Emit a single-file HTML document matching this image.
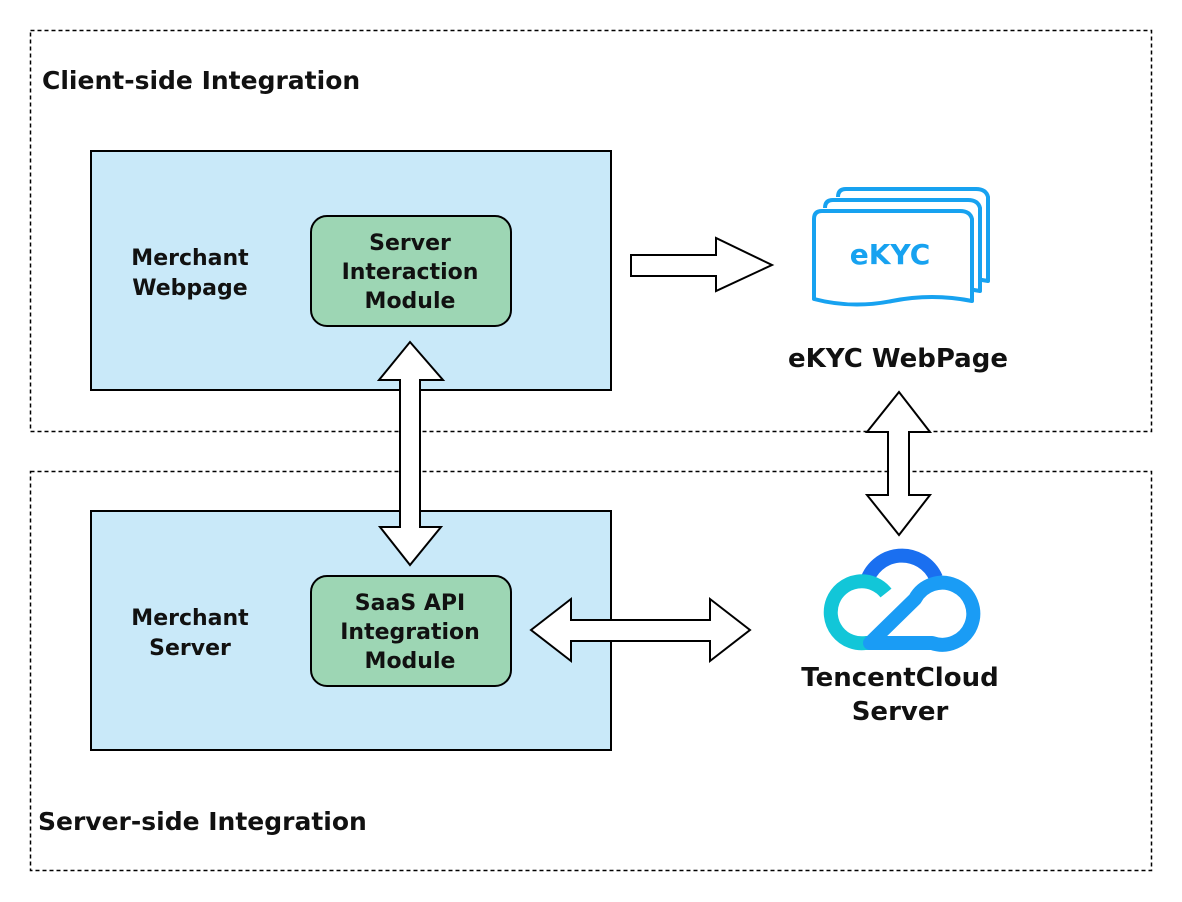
<!DOCTYPE html>
<html><head><meta charset="utf-8"><style>
html,body{margin:0;padding:0;background:#fff;}
svg{display:block;}
text{font-family:"DejaVu Sans","Liberation Sans",sans-serif;font-weight:bold;fill:#111;}
</style></head><body>
<svg width="1182" height="902" viewBox="0 0 1182 902" xmlns="http://www.w3.org/2000/svg">
<rect x="30.5" y="30.5" width="1121" height="401" fill="none" stroke="#000" stroke-width="1.5" stroke-dasharray="4,3"/>
<rect x="30.5" y="471.5" width="1121" height="399" fill="none" stroke="#000" stroke-width="1.5" stroke-dasharray="4,3"/>
<text x="42" y="89" font-size="25">Client-side Integration</text>
<text x="38" y="830" font-size="25">Server-side Integration</text>

<rect x="91" y="151" width="520" height="239" fill="#c9e9f9" stroke="#000" stroke-width="2"/>
<rect x="91" y="511" width="520" height="239" fill="#c9e9f9" stroke="#000" stroke-width="2"/>
<rect x="311" y="216" width="200" height="110" rx="16" fill="#9dd6b4" stroke="#000" stroke-width="2"/>
<rect x="311" y="576" width="200" height="110" rx="16" fill="#9dd6b4" stroke="#000" stroke-width="2"/>

<g font-size="22" text-anchor="middle">
<text x="190" y="265">Merchant</text><text x="190" y="295">Webpage</text>
<text x="190" y="625">Merchant</text><text x="190" y="655">Server</text>
<text x="410" y="250">Server</text><text x="410" y="279">Interaction</text><text x="410" y="308">Module</text>
<text x="410" y="610">SaaS API</text><text x="410" y="639">Integration</text><text x="410" y="668">Module</text>
</g>

<g fill="#fff" stroke="#000" stroke-width="2" stroke-linejoin="miter">
<polygon points="631,255 716,255 716,238 772,265 716,291 716,276 631,276"/>
<polygon points="410,342 443,380 420,380 420,527 441,527 410,565 380,527 400,527 400,380 379,380"/>
<polygon points="899,392 930,432 909,432 909,495 930,495 899,535 867,495 888,495 888,432 867,432"/>
<polygon points="531,630 571,599 571,620 710,620 710,599 750,630 710,661 710,641 571,641 571,661"/>
</g>

<!-- eKYC pages icon -->
<g fill="#fff" stroke="#17a2f0" stroke-width="4" stroke-linejoin="round">
<path d="M838,197 q0,-8 8,-8 h130 q10,0 12,8 v84 l-12,-2"/>
<path d="M825,208 q0,-8 8,-8 h135 q10,0 12,8 v83 l-12,-2"/>
<path d="M814,219 q0,-8 8,-8 h138 q10,0 12,8 v82 q-40,-8 -80,0 q-40,8 -78,-2 z"/>
</g>
<text x="890" y="264" font-size="28" text-anchor="middle" style="fill:#17a2f0">eKYC</text>
<text x="898" y="367" font-size="26" text-anchor="middle">eKYC WebPage</text>

<!-- cloud -->
<path d="M866,584 a37,37 0 0 1 70,-6" fill="none" stroke="#1a6ff0" stroke-width="14"/>
<path d="M886,593 a31,31 0 1 0 -20,50 h14" fill="none" stroke="#12c6d8" stroke-width="14"/>
<path d="M870,643 l45,-44 a31,31 0 1 1 17,44 z" fill="none" stroke="#1a9cf5" stroke-width="14" stroke-linejoin="round"/>
<text x="900" y="686" font-size="26" text-anchor="middle">TencentCloud</text>
<text x="900" y="720" font-size="26" text-anchor="middle">Server</text>
</svg>
</body></html>
